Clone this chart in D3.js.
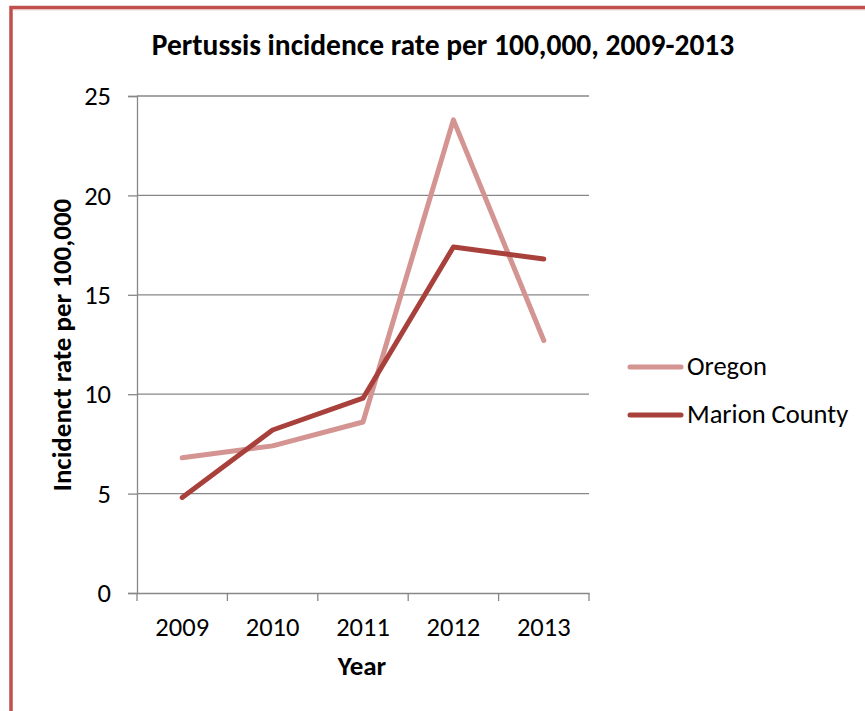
<!DOCTYPE html>
<html><head><meta charset="utf-8">
<script src="https://cdn.jsdelivr.net/npm/d3@7"></script>
<style>
body{margin:0;background:#fff;}
text{font-family:Carlito, Calibri, Lato, "Open Sans", sans-serif;fill:#000;}
</style></head>
<body><svg id="c" width="865" height="711"></svg>
<script>
const years = ["2009","2010","2011","2012","2013"];
const oregon = [6.8, 7.4, 8.6, 23.8, 12.7];
const marion = [4.8, 8.2, 9.8, 17.4, 16.8];
const seriesNames = ["Oregon","Marion County"];
const seriesColors = ["#D39492","#A8403C"];
const yTicks = [0,5,10,15,20,25];

const FONT = "Carlito, Calibri, Lato, sans-serif";
const svg = d3.select("#c");
// border
svg.append("rect").attr("x",11).attr("y",7.5).attr("width",870).attr("height",720)
  .attr("fill","none").attr("stroke","#C0504D").attr("stroke-width",3.5);
svg.append("line").attr("x1",13).attr("x2",865).attr("y1",9.8).attr("y2",9.8)
  .attr("stroke","#E6B9B8").attr("stroke-width",1);

const L=137,R=589,T=96,B=593;
const x = d3.scaleBand().domain(years).range([L,R]);
const y = d3.scaleLinear().domain([0,25]).range([B,T]);

// gridlines
svg.append("g").selectAll("line").data(yTicks.filter(d=>d>0)).join("line")
  .attr("x1",L).attr("x2",R).attr("y1",d=>y(d)).attr("y2",d=>y(d))
  .attr("stroke","#878787").attr("stroke-width",1.3);

// y axis
const ya = svg.append("g").attr("transform",`translate(${L},0)`)
  .call(d3.axisLeft(y).tickValues(yTicks).tickSize(9).tickPadding(17));
ya.select(".domain").attr("stroke","#878787").attr("stroke-width",1.3);
ya.selectAll(".tick line").attr("stroke","#878787").attr("stroke-width",1.3);
ya.selectAll(".tick text").attr("font-size",26.5).attr("font-family",FONT).attr("dy","0.33em");

// x axis
const xa = svg.append("g").attr("transform",`translate(0,${B})`)
  .call(d3.axisBottom(x).tickSize(0));
xa.select(".domain").attr("stroke","#878787").attr("stroke-width",1.3);
xa.selectAll(".tick text").attr("font-size",26.5).attr("font-family",FONT).attr("y",43).attr("dy",0);
const edges = years.map(d=>x(d)).concat([R]);
svg.append("g").selectAll("line").data(edges).join("line")
  .attr("x1",d=>d).attr("x2",d=>d).attr("y1",B).attr("y2",B+8)
  .attr("stroke","#878787").attr("stroke-width",1.3);

// lines
const line = d3.line().x((d,i)=>x(years[i])+x.bandwidth()/2).y(d=>y(d));
[oregon, marion].forEach((s,k)=>{
  svg.append("path").datum(s).attr("d",line).attr("fill","none")
    .attr("stroke",seriesColors[k]).attr("stroke-width",5)
    .attr("stroke-linecap","round").attr("stroke-linejoin","round");
});

// title
svg.append("text").attr("x",443).attr("y",55).attr("text-anchor","middle")
  .attr("font-size",29.5).attr("font-weight","bold").text("Pertussis incidence rate per 100,000, 2009-2013");
// axis titles
svg.append("text").attr("transform","translate(71,345) rotate(-90)").attr("text-anchor","middle")
  .attr("font-size",27).attr("font-weight","bold").text("Incidenct rate per 100,000");
svg.append("text").attr("x",362).attr("y",675).attr("text-anchor","middle")
  .attr("font-size",27).attr("font-weight","bold").text("Year");

// legend
const lg = svg.append("g");
seriesNames.forEach((n,k)=>{
  const ly = 367 + k*48;
  lg.append("line").attr("x1",630).attr("x2",681).attr("y1",ly).attr("y2",ly)
    .attr("stroke",seriesColors[k]).attr("stroke-width",5).attr("stroke-linecap","round");
  lg.append("text").attr("x",687).attr("y",ly+8).attr("font-size",26.5).text(n);
});
</script></body></html>
